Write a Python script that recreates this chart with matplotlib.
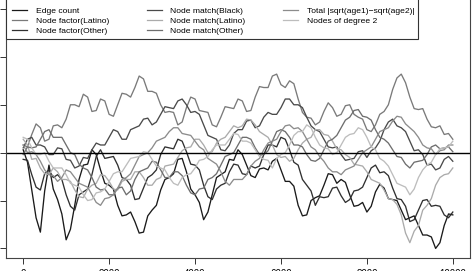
import numpy as np
import matplotlib
matplotlib.use("Agg")
import matplotlib.pyplot as plt
from matplotlib.patches import Rectangle

plt.rcParams['font.family'] = ['Liberation Sans', 'DejaVu Sans']

# MCMC iterations (every 100 steps)
iterations = list(range(0, 10001, 100))

# -------- trace values --------
edge_count = [3, -10, -39, -68, -83, -40, -13, -38, -49, -64,
              -91, -80, -55, -28, -13, -12, 3, -2, -18, -32,
              -34, -38, -55, -66, -65, -62, -72, -84, -83, -66,
              -60, -55, -39, -28, -26, -22, -7, -6, -20, -38,
              -44, -52, -70, -62, -44, -26, -23, -20, -7, -8,
              3, -2, -13, -24, -26, -17, -16, -18, -9, -6,
              -18, -30, -30, -35, -55, -66, -65, -50, -47, -45,
              -34, -22, -23, -32, -28, -31, -44, -56, -55, -52,
              -62, -56, -41, -33, -37, -48, -49, -50, -60, -70,
              -68, -66, -76, -86, -86, -88, -100, -94, -76, -64,
              -65]
nf_latino = [8, 6, 19, 30, 26, 12, 14, 28, 29, 26,
             35, 50, 50, 48, 61, 58, 43, 44, 56, 54,
             40, 38, 50, 62, 61, 58, 68, 80, 77, 64,
             64, 62, 50, 42, 43, 42, 29, 32, 47, 58,
             56, 44, 43, 42, 29, 27, 37, 48, 47, 46,
             56, 54, 43, 44, 58, 69, 68, 68, 80, 82,
             71, 68, 75, 72, 56, 42, 37, 36, 29, 32,
             43, 52, 47, 38, 40, 49, 50, 40, 37, 35,
             24, 22, 29, 40, 43, 50, 66, 78, 82, 73,
             58, 46, 45, 46, 35, 27, 26, 28, 19, 20,
             14]
nf_other = [-7, -8, -23, -36, -39, -22, -18, -26, -23, -28,
            -44, -56, -60, -44, -41, -38, -23, -4, 3, -6,
            -5, -4, -13, -26, -28, -34, -49, -48, -37, -26,
            -23, -18, -2, 6, 5, 4, 14, 12, 1, -12,
            -13, -18, -34, -46, -49, -38, -34, -32, -20, -12,
            -13, -22, -23, -14, -16, -14, -2, 8, 8, 6,
            16, 14, 3, -10, -13, -28, -34, -40, -55, -46,
            -47, -46, -37, -36, -45, -52, -49, -40, -39, -36,
            -26, -16, -13, -21, -20, -24, -37, -48, -49, -56,
            -72, -70, -60, -50, -49, -56, -55, -56, -65, -68,
            -62]
nm_black = [5, 14, 16, 8, 8, 6, -2, -2, 5, 4,
            -7, -8, -16, -14, -5, -6, 3, 10, 8, 8,
            16, 24, 22, 14, 14, 24, 26, 28, 35, 36,
            29, 32, 40, 48, 47, 46, 54, 56, 50, 42,
            43, 40, 29, 18, 16, 14, 3, 2, 8, 20,
            24, 24, 33, 34, 26, 28, 37, 42, 40, 40,
            47, 56, 56, 50, 50, 47, 37, 28, 24, 22,
            14, 6, 5, 6, -2, -8, -7, -6, 1, 2,
            -5, 2, 5, 12, 24, 32, 35, 28, 26, 22,
            12, 2, 3, -2, -13, -12, -18, -16, -7, -4,
            -9]
nm_latino = [14, 8, -7, -6, -16, -22, -23, -16, -20, -28,
             -28, -30, -39, -46, -47, -38, -34, -32, -23, -24,
             -30, -38, -39, -30, -28, -28, -20, -20, -26, -34,
             -34, -28, -26, -14, -13, -12, -5, 2, 5, 6,
             14, 14, 8, 0, 1, 10, 14, 16, 22, 28,
             26, 28, 35, 34, 29, 22, 19, 16, 8, -2,
             -5, -4, -9, -6, 3, 10, 14, 16, 24, 24,
             19, 18, 12, 4, 3, -2, -5, -12, -13, -14,
             -20, -28, -30, -32, -39, -48, -49, -54, -65, -84,
             -94, -82, -76, -60, -55, -48, -34, -26, -23, -22,
             -16]
nm_other = [-2, 6, 5, 6, 14, 22, 24, 16, 16, 16,
            8, 0, -2, -12, -16, -18, -26, -36, -39, -38,
            -44, -44, -37, -36, -44, -40, -28, -20, -18, -16,
            -9, -10, -18, -26, -26, -20, -20, -24, -34, -42,
            -44, -38, -37, -28, -26, -22, -13, -4, -2, 0,
            8, 16, 16, 14, 5, -2, -2, 2, 12, 22,
            24, 22, 16, 8, 8, 6, -2, -8, -9, -6,
            3, 12, 14, 18, 26, 34, 37, 44, 45, 38,
            37, 34, 24, 16, 14, 10, 3, -4, -5, -12,
            -16, -10, -9, -8, -2, 6, 8, 4, 5, 6,
            1]
total_age = [8, 0, 1, -2, -9, -18, -23, -24, -30, -26,
             -18, -20, -26, -32, -34, -36, -44, -52, -55, -48,
             -47, -44, -37, -28, -26, -22, -13, -4, -2, 0,
             5, 12, 14, 16, 22, 26, 26, 20, 19, 18,
             12, 6, 3, -6, -9, -12, -20, -30, -34, -28,
             -28, -28, -23, -14, -9, -6, 3, 10, 12, 14,
             22, 28, 29, 25, 26, 22, 14, 6, 3, -4,
             -9, -16, -20, -20, -23, -18, -16, -14, -7, 0,
             3, 6, 14, 22, 24, 26, 33, 38, 37, 30,
             26, 22, 16, 8, 5, 4, -2, 2, 3, 8,
             8]
degree2 = [16, 14, 5, -2, -2, 0, -9, -16, -16, -16,
           -23, -32, -34, -36, -44, -50, -49, -42, -41, -38,
           -30, -22, -20, -20, -13, -6, -5, -4, 1, 0,
           -7, -14, -16, -18, -26, -32, -34, -26, -23, -22,
           -16, -8, -7, -4, 3, 8, 8, 8, 14, 20,
           19, 12, 12, 10, 3, -4, -7, -8, -16, -6,
           -2, 0, 8, 18, 22, 22, 29, 26, 16, 8,
           5, 4, -2, 0, 8, 16, 19, 20, 26, 24,
           16, 6, 3, -6, -9, -14, -23, -32, -34, -36,
           -44, -38, -26, -18, -13, -10, -2, 4, 5, 6,
           12]

series = [edge_count, nf_latino, nf_other, nm_black, nm_latino, nm_other, total_age, degree2]
labels = ['Edge count', 'Node factor(Latino)', 'Node factor(Other)',
          'Node match(Black)', 'Node match(Latino)', 'Node match(Other)',
          'Total |sqrt(age1)\u2212sqrt(age2)|', 'Nodes of degree 2']
colors = ['#1a1a1a', '#7a7a7a', '#303030', '#4a4a4a', '#ababab', '#6e6e6e', '#8c8c8c', '#bdbdbd']

x_ticks = [0, 2000, 4000, 6000, 8000, 10000]
y_ticks = [-100, -50, 0, 50, 100, 150]

fig = plt.figure(figsize=(4.74, 2.71), dpi=100)
ax = fig.add_axes([6 / 474, 13 / 271, 464 / 474, 260.5 / 271])

for vals, lab, col in zip(series, labels, colors):
    ax.plot(iterations, vals, color=col, lw=0.95, label=lab)
ax.axhline(0, color='black', lw=1.0)

ax.set_xlim(-400, 10400)
ax.set_ylim(-110, 162)
ax.set_xticks(x_ticks)
ax.set_xticklabels([str(t) for t in x_ticks], fontsize=7)
ax.set_yticks(y_ticks)
ax.set_yticklabels([str(t) for t in y_ticks], fontsize=7, rotation=90, va='center')
ax.tick_params(direction='out', length=4, width=0.7, pad=4, color='#333333')
for s in ax.spines.values():
    s.set_linewidth(0.8)
    s.set_color('#444444')

# legend box (R style, top edge runs past the plot top)
box = Rectangle((0, 0.8407), 0.888, 0.25, transform=ax.transAxes, facecolor='white',
                edgecolor='#333333', lw=0.8, zorder=4, clip_on=False)
ax.add_patch(box)

leg = ax.legend(loc='upper left', bbox_to_anchor=(-0.0065, 1), borderaxespad=0, ncol=3,
                fontsize=6.1, handlelength=1.75, handletextpad=1.05, columnspacing=4.4,
                labelspacing=0.28, borderpad=1.1, frameon=False)
leg.set_zorder(5)
for ln in leg.get_lines():
    ln.set_linewidth(0.9)

plt.savefig("out.png", dpi=100)
